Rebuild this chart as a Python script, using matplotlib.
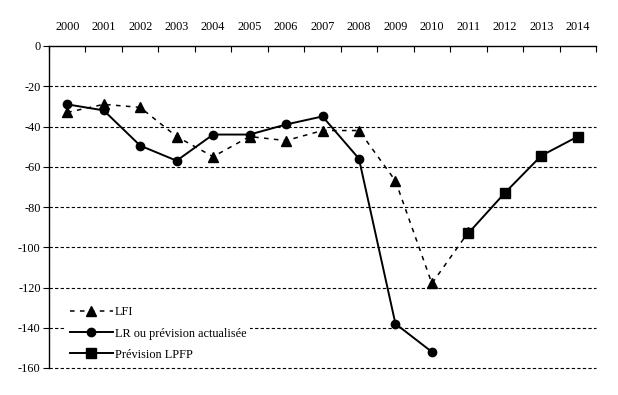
import matplotlib
matplotlib.use('Agg')
import matplotlib.pyplot as plt
import numpy as np

plt.rc('font', **{'family': 'serif', 'serif': ['Liberation Serif'], 'size': 8.8})
plt.rcParams['axes.unicode_minus'] = False

# Data
years = ['2000', '2001', '2002', '2003', '2004', '2005', '2006', '2007',
         '2008', '2009', '2010', '2011', '2012', '2013', '2014']
lfi = [-33, -29, -30.5, -45, -55, -45, -47, -42, -42, -67, -118, -92.5,
       np.nan, np.nan, np.nan]
lr = [-29, -32, -49.5, -57, -44, -44, -39, -35, -56, -138, -152,
      np.nan, np.nan, np.nan, np.nan]
lpfp = [np.nan] * 11 + [-93, -73, -54.5, -45]

yticks = [0, -20, -40, -60, -80, -100, -120, -140, -160]

fig = plt.figure(figsize=(6.18, 3.95), dpi=100)
ax = fig.add_axes([49 / 618, 1 - 368 / 395, (596 - 49) / 618, (368 - 46) / 395])

x = np.arange(len(years))

ax.plot(x, lfi, color='black', linestyle=(0, (3, 3.5)), linewidth=1.1,
        marker='^', markersize=7.5, label='LFI')
ax.plot(x, lr, color='black', linestyle='-', linewidth=1.4,
        marker='o', markersize=6, label='LR ou prévision actualisée')
ax.plot(x, lpfp, color='black', linestyle='-', linewidth=1.4,
        marker='s', markersize=6.5, label='Prévision LPFP')

ax.set_xlim(-0.5, len(years) - 0.5)
ax.set_ylim(-160, 0)

# gridlines
for v in yticks[1:]:
    ax.axhline(v, color='black', linestyle=(0, (3, 2)), linewidth=0.8,
               zorder=0, clip_on=False)

ax.set_yticks(yticks)
ax.tick_params(axis='y', direction='out', length=4, width=0.8, pad=2)

# category axis sits at y = 0 (top)
ax.xaxis.tick_top()
ax.set_xticks(np.arange(-0.5, len(years) + 0.5, 1))
ax.set_xticklabels([])
ax.set_xticks(x, minor=True)
ax.set_xticklabels(years, minor=True)
ax.tick_params(axis='x', which='major', direction='in', length=4, width=0.8)
ax.tick_params(axis='x', which='minor', length=0, pad=9.5)

ax.spines['right'].set_visible(False)
ax.spines['bottom'].set_visible(False)
ax.spines['top'].set_linewidth(1.0)
ax.spines['left'].set_linewidth(1.0)

leg = ax.legend(loc='lower left', bbox_to_anchor=(0.025, 0.0), frameon=True,
                fancybox=False, facecolor='white', edgecolor='none',
                framealpha=1, handlelength=3.5, handletextpad=0.15,
                labelspacing=0.75, borderaxespad=0.3, borderpad=0.3)

plt.savefig('out.png', dpi=100)
